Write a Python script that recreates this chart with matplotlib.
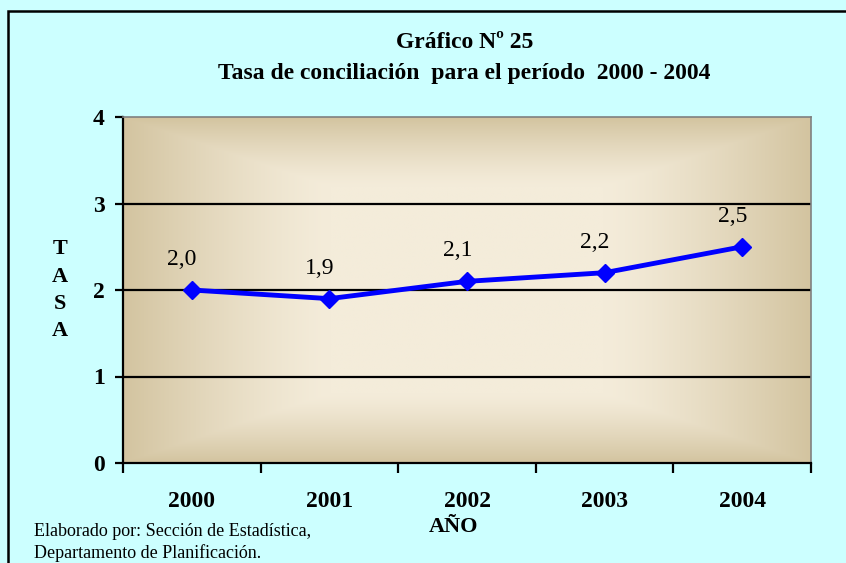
import matplotlib.pyplot as plt
import numpy as np
from matplotlib.patches import Rectangle

years = ["2000", "2001", "2002", "2003", "2004"]
tasa = [2.0, 1.9, 2.1, 2.2, 2.5]
labels = ["2,0", "1,9", "2,1", "2,2", "2,5"]
yticks = [0, 1, 2, 3, 4]

plt.rcParams["font.family"] = ["Liberation Serif", "DejaVu Serif"]

W, H = 846, 563
fig = plt.figure(figsize=(W / 100, H / 100), dpi=100)
fig.patch.set_facecolor("#CCFFFF")

# marco del gráfico (solo se ve arriba y a la izquierda)
fig.add_artist(Rectangle((8 / W, -0.1), 1.5, 1.1 - 11 / H,
                         transform=fig.transFigure, fill=False,
                         edgecolor="black", linewidth=1.8))

ax = fig.add_axes([123 / W, 1 - 463 / H, (811 - 123) / W, (463 - 117) / H])

# fondo degradado beige
nx, ny = 300, 200
gx = np.abs(np.linspace(-1, 1, nx))
gy = np.abs(np.linspace(-1, 1, ny))
fx = np.clip((gx - 0.4) / 0.6, 0, 1) ** 1.3
fy = np.clip((gy - 0.6) / 0.4, 0, 1) ** 1.3
f = np.maximum(fx[None, :], fy[:, None])
c_in = np.array([0xF4, 0xEC, 0xDA]) / 255
c_out = np.array([0xD3, 0xC4, 0xA0]) / 255
img = c_in[None, None, :] * (1 - f[..., None]) + c_out[None, None, :] * f[..., None]
ax.imshow(img, extent=[-0.5, len(years) - 0.5, 0, 4], aspect="auto", zorder=0)

x = np.arange(len(years))
for yv in yticks[1:4]:
    ax.axhline(yv, color="black", linewidth=1.6, zorder=1)

ax.plot(x, tasa, color="#0000FF", linewidth=3.5, marker="D", markersize=9,
        zorder=3)
for xi, yi, lab in zip(x, tasa, labels):
    ax.annotate(lab, (xi, yi), xytext=(-7, 22), textcoords="offset points",
                ha="center", va="center", fontsize=17)

ax.set_xlim(-0.5, len(years) - 0.5)
ax.set_ylim(0, 4)
ax.set_yticks(yticks)
ax.set_yticklabels([str(v) for v in yticks], fontsize=17, fontweight="bold")
ax.set_xticks(np.arange(-0.5, len(years), 1.0))
ax.set_xticklabels([])
ax.set_xticks(x, minor=True)
ax.set_xticklabels(years, minor=True, fontsize=17, fontweight="bold")
ax.tick_params(axis="x", which="minor", length=0, pad=20)
ax.tick_params(axis="x", which="major", direction="out", length=7, width=1.6)
ax.tick_params(axis="y", direction="out", length=6, width=1.6, pad=7)

for side in ["top", "right"]:
    ax.spines[side].set_color("#808080")
    ax.spines[side].set_linewidth(1.2)
for side in ["left", "bottom"]:
    ax.spines[side].set_color("black")
    ax.spines[side].set_linewidth(1.6)

fig.text(465 / W, 1 - 43 / H, "Gráfico Nº 25", ha="center", va="center",
         fontsize=17, fontweight="bold")
fig.text(464 / W, 1 - 73 / H, "Tasa de conciliación  para el período  2000 - 2004",
         ha="center", va="center", fontsize=17, fontweight="bold")

for i, ch in enumerate("TASA"):
    fig.text(60 / W, 1 - (249 + i * 27.5) / H, ch, ha="center", va="center",
             fontsize=16, fontweight="bold")

fig.text(454 / W, 1 - 527 / H, "AÑO", ha="center", va="center",
         fontsize=16, fontweight="bold")
fig.text(34 / W, 1 - 532 / H, "Elaborado por: Sección de Estadística,",
         ha="left", va="center", fontsize=13)
fig.text(34 / W, 1 - 553 / H, "Departamento de Planificación.",
         ha="left", va="center", fontsize=13)

fig.savefig("out.png", dpi=100, facecolor=fig.get_facecolor())
